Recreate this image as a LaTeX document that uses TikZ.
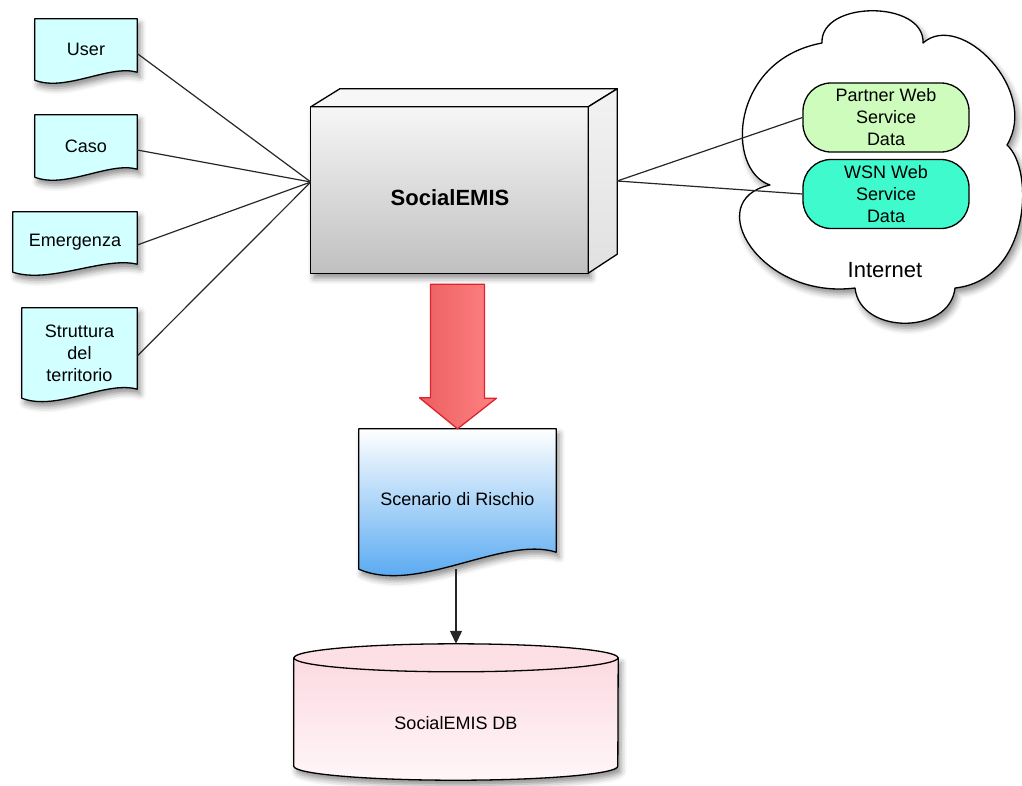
\documentclass[tikz,border=0pt]{standalone}
\usepackage{fontspec}
\setmainfont{Liberation Sans}
\usetikzlibrary{calc,arrows.meta,backgrounds,shadows.blur}

\definecolor{doccyan}{RGB}{210,255,255}
\definecolor{frontTop}{RGB}{246,246,246}
\definecolor{frontBot}{RGB}{192,192,192}
\definecolor{partnergreen}{RGB}{206,252,188}
\definecolor{wsnteal}{RGB}{62,250,204}
\definecolor{redL}{RGB}{236,94,98}
\definecolor{redR}{RGB}{255,130,130}
\definecolor{redB}{RGB}{222,36,40}
\definecolor{scenBot}{RGB}{70,160,240}
\definecolor{dbTop}{RGB}{252,218,226}
\definecolor{dbBot}{RGB}{255,246,248}

% document shape with a wavy lower edge, drawn behind node #1
% #2: rise of the lower right corner, #3: fill options
\newcommand\docshape[3]{%
  \path[docbase,#3] (#1.north west) -- (#1.north east) -- ($(#1.south east)+(0,-#2)$)
    .. controls ($(#1.south east)!0.27!(#1.south west)+(0,-2*#2)$)
       and ($(#1.south east)!0.7!(#1.south west)+(0,1.5*#2)$) .. (#1.south west) -- cycle;}

\begin{document}
\begin{tikzpicture}[x=1pt,y=-1pt,
  txt/.style={font=\fontsize{18}{22}\selectfont, text=black, align=center},
  docnode/.style={txt, inner sep=0pt},
  softshadow/.style={blur shadow={shadow xshift=3pt, shadow yshift=-5pt,
      shadow blur radius=6pt, shadow opacity=45}},
  docbase/.style={draw=black, line width=1.3pt, line join=round, softshadow},
  link/.style={draw=black!85, line width=1.2pt},
  svc/.style={txt, draw=black, line width=1.3pt, rounded corners=28pt,
      minimum width=166, minimum height=69, inner sep=0pt},
  facestyle/.style={draw=black, line width=1.3pt, line join=round},
]
\useasboundingbox (0,0) rectangle (1022,785);

% input documents
\node[docnode, minimum width=102, minimum height=61] (user) at (86,49.5) {User};
\node[docnode, minimum width=102, minimum height=62] (caso) at (86,146) {Caso};
\node[docnode, minimum width=124, minimum height=60] (emerg) at (75,242) {Emergenza};
\node[docnode, minimum width=115, minimum height=90] (strutt) at (79.5,353) {Struttura\\del\\territorio};

% central 3D block
\node[minimum width=277, minimum height=166, inner sep=0pt] (emis) at (449.5,190) {};
\node[font=\bfseries\fontsize{22}{26}\selectfont] (emistxt) at (450,198) {SocialEMIS};

% output document and database
\node[docnode, minimum width=197, minimum height=140] (scen) at (457.5,499) {Scenario di Rischio};
\node[minimum width=324, minimum height=136, inner sep=0pt] (db) at (456,712) {};
\node[txt] (dbtxt) at (456,723) {SocialEMIS DB};

% web services in the cloud
\node[svc, fill=partnergreen] (partner) at (886,117.5) {Partner Web\\Service\\Data};
\node[svc, fill=wsnteal] (wsn) at (886,194) {WSN Web\\Service\\Data};
\node[txt, font=\fontsize{22}{26}\selectfont] (inet) at (885,270) {Internet};

\begin{scope}[on background layer]
  \docshape{user}{8}{fill=doccyan}
  \docshape{caso}{8}{fill=doccyan}
  \docshape{emerg}{8}{fill=doccyan}
  \docshape{strutt}{9}{fill=doccyan}
  \docshape{scen}{17}{top color=white, bottom color=scenBot}

  % block faces
  \path[facestyle, softshadow, top color=frontTop, bottom color=frontBot]
    (emis.north west) rectangle (emis.south east);
  \path[facestyle, fill=white!97!black]
    (emis.north west) -- ++(29,-18) -- ($(emis.north east)+(29,-18)$) -- (emis.north east) -- cycle;
  \path[facestyle, top color=white!95!black, bottom color=white!88!black]
    (emis.north east) -- ++(29,-18) -- ($(emis.south east)+(29,-19)$) -- (emis.south east) -- cycle;

  % database cylinder
  \path[facestyle, softshadow, top color=dbTop, bottom color=dbBot]
    ($(db.north west)+(0,14)$) -- ($(db.south west)+(0,-14)$)
    arc[start angle=180, end angle=360, x radius=162pt, y radius=14pt]
    -- ($(db.north east)+(0,14)$) -- cycle;
  \path[facestyle, fill=dbTop!85!white] ($(db.north)+(0,14)$) ellipse[x radius=162pt, y radius=14pt];

  % internet cloud
  \path[facestyle, fill=white, softshadow]
    (770,185) .. controls (725,170) and (730,60) .. (822,43)
    .. controls (820,0) and (925,0) .. (923,43)
    .. controls (960,10) and (1040,90) .. (1007,145)
    .. controls (1035,170) and (1030,280) .. (955,288)
    .. controls (950,335) and (860,335) .. (855,288)
    .. controls (760,300) and (700,200) .. (770,185) -- cycle;
\end{scope}

% connectors
\draw[link] ([yshift=-4pt]user.east) -- ([yshift=8pt]emis.west);
\draw[link] ([yshift=-4pt]caso.east) -- ([yshift=8pt]emis.west);
\draw[link] ([yshift=-3pt]emerg.east) -- ([yshift=8pt]emis.west);
\draw[link] ([yshift=-3pt]strutt.east) -- ([yshift=8pt]emis.west);
\draw[link] ([xshift=29pt,yshift=9pt]emis.east) -- (partner.west);
\draw[link] ([xshift=29pt,yshift=9pt]emis.east) -- (wsn.west);
\draw[link, -{Triangle[length=13pt,width=12pt]}] (db.north |- scen.south) -- (db.north);

% fat arrow from the block to the scenario
\path[draw=redB, line width=1.3pt, line join=round, left color=redL, right color=redR]
  ($(scen.north |- emis.south)+(-27,11)$) -- ++(54,0) -- ++(0,114) -- ++(12,0)
  -- (scen.north) -- ++(-38,-31) -- ++(11,0) -- cycle;
\end{tikzpicture}
\end{document}
